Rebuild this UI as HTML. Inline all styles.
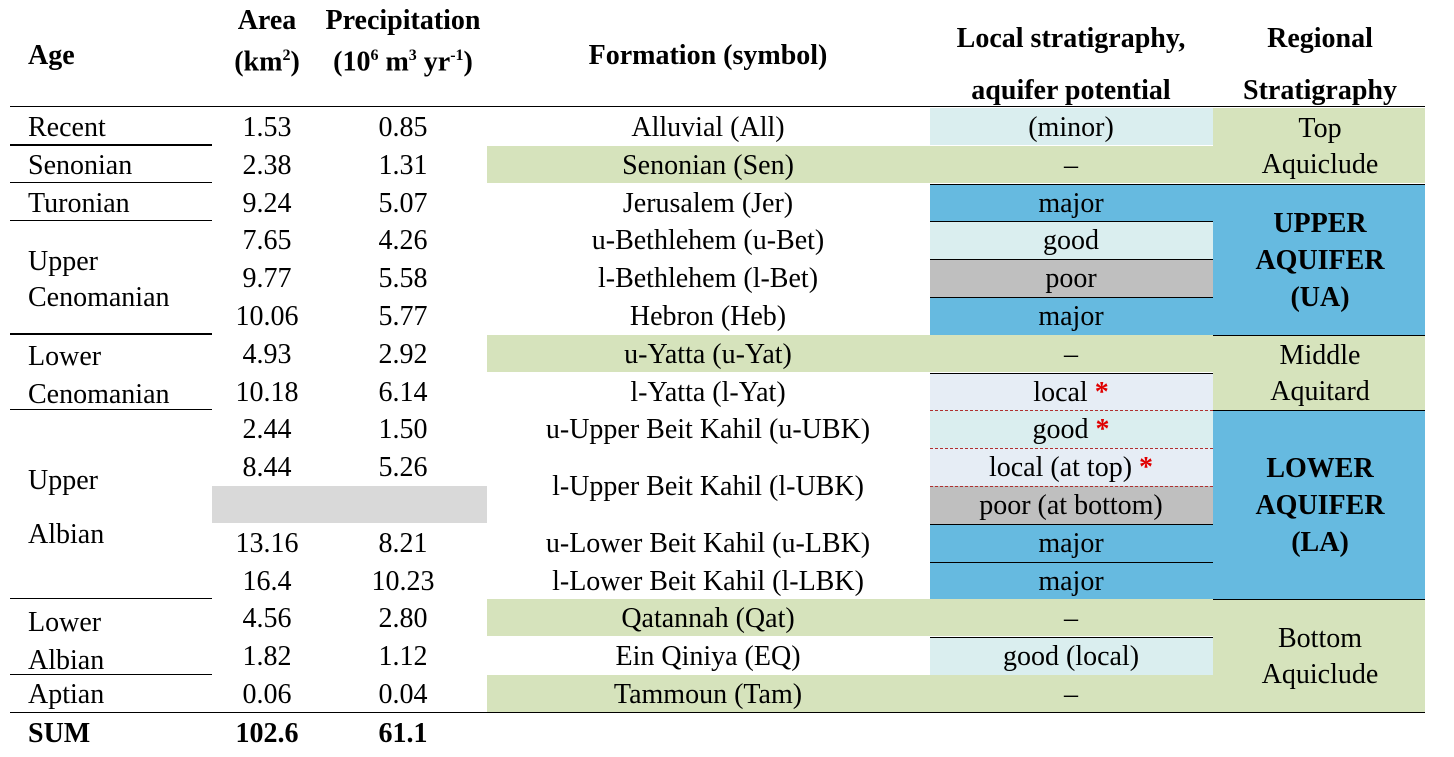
<!DOCTYPE html>
<html><head><meta charset="utf-8"><style>
body{margin:0;width:1454px;height:757px;background:#fff;position:relative;overflow:hidden;font-family:"Liberation Serif","Times New Roman",Times,serif;color:#000}
.a{position:absolute;font-family:"Liberation Serif","Times New Roman",Times,serif;font-size:28px;line-height:30px;white-space:nowrap}
.c{transform:translateX(-50%);text-align:center}
.b{font-weight:bold}
.bg{position:absolute}
.ln{position:absolute;height:1.3px;background:#000}
.st{color:#e00000;font-weight:bold}
</style></head><body>
<div id="root"></div>
<script>
const ages=["Recent","Senonian","Turonian","","","","","","","","","","","","",""];
const areas=["1.53","2.38","9.24","7.65","9.77","10.06","4.93","10.18","2.44","8.44","","13.16","16.4","4.56","1.82","0.06"];
const precips=["0.85","1.31","5.07","4.26","5.58","5.77","2.92","6.14","1.50","5.26","","8.21","10.23","2.80","1.12","0.04"];
const formations=["Alluvial (All)","Senonian (Sen)","Jerusalem (Jer)","u-Bethlehem (u-Bet)","l-Bethlehem (l-Bet)","Hebron (Heb)","u-Yatta (u-Yat)","l-Yatta (l-Yat)","u-Upper Beit Kahil (u-UBK)","","","u-Lower Beit Kahil (u-LBK)","l-Lower Beit Kahil (l-LBK)","Qatannah (Qat)","Ein Qiniya (EQ)","Tammoun (Tam)"];
const potentials=["(minor)","–","major","good","poor","major","–","local","good","local (at top)","poor (at bottom)","major","major","–","good (local)","–"];
const stars=[0,0,0,0,0,0,0,1,1,1,0,0,0,0,0,0];
const C={g:"#d6e3bc",c:"#daeeef",b:"#66bae0",p:"#bfbfbf",l:"#e6edf5",w:"#fff"};
const potColors=["c","g","b","c","p","b","g","l","c","l","p","b","b","g","c","g"];
const formGreen=[0,1,0,0,0,0,1,0,0,0,0,0,0,1,0,1];
const root=document.getElementById('root');
const T=107,H=37.8;
function el(cls,x,y,txt,name){const d=document.createElement('div');d.className=cls;d.style.left=x+'px';d.style.top=y+'px';if(txt!==undefined)d.innerHTML=txt;


root.appendChild(d);return d;}
function box(x,y,w,h,col,name){const d=el('bg',x,y,undefined,name);d.style.width=w+'px';d.style.height=h+'px';d.style.background=col;return d;}
el('a b',28,41,'Age','header-age');
el('a b c',267,6,'Area','header-area');
el('a b c',267,41,'(km<sup style="font-size:16px">2</sup>)','header-area-unit');
el('a b c',403,6,'Precipitation','header-precip');
el('a b c',403,41,'(10<sup style="font-size:16px">6</sup> m<sup style="font-size:16px">3</sup> yr<sup style="font-size:16px">-1</sup>)','header-precip-unit');
el('a b c',708,41,'Formation (symbol)','header-formation');
el('a b c',1071,24,'Local stratigraphy,','header-local');
el('a b c',1071,76,'aquifer potential','header-local-2');
el('a b c',1320,24,'Regional','header-regional');
el('a b c',1320,76,'Stratigraphy','header-regional-2');
for(let i=0;i<16;i++){const y=T+i*H;
 if(formGreen[i])box(487,y+1,443,H-1,C.g,'formation-bg');
 const lc=box(930,y+1,283,H-1,C[potColors[i]],'potential-cell');
 if(i==8||i==9||i==10)lc.style.borderTop='1.3px dashed #b03030';
 else if(i>0&&!formGreen[i])lc.style.borderTop='1.3px solid #000';
}
box(212,T+10*H+1,275,H-1,'#d9d9d9','gap-cell');
const reg=[[0,2,C.g,'Top<br>Aquiclude',0,'regional-top-aquiclude'],[2,6,C.b,'UPPER<br>AQUIFER<br>(UA)',1,'regional-upper-aquifer'],[6,8,C.g,'Middle<br>Aquitard',0,'regional-middle-aquitard'],[8,13,C.b,'LOWER<br>AQUIFER<br>(LA)',1,'regional-lower-aquifer'],[13,16,C.g,'Bottom<br>Aquiclude',0,'regional-bottom-aquiclude']];
reg.forEach(r=>{const y=T+r[0]*H,h=(r[1]-r[0])*H;const b=box(1213,y+1,212,h-1,r[2],r[5]+'-bg');if(r[0]>0)b.style.borderTop='1.3px solid #000';
 const n=r[3].split('<br>').length;const lh=r[4]?37:36;
 const t=el('a c'+(r[4]?' b':''),1320,y+h/2-n*lh/2+2,r[3],r[5]);t.style.lineHeight=lh+'px';});
for(let i=0;i<16;i++){const y=T+i*H+6;
 if(ages[i])el('a',28,y,ages[i],'age-label');
 if(areas[i])el('a c',267,y,areas[i],'area-value');
 if(precips[i])el('a c',403,y,precips[i],'precip-value');
 if(formations[i])el('a c',708,y,formations[i],'formation-label');
 el('a c',1071,y,potentials[i]+(stars[i]?' <span class="st">*</span>':''),'potential-label');
}
el('a',28,T+3*H+24,'Upper<br>Cenomanian','age-upper-cenomanian').style.lineHeight='36px';
el('a',28,T+6*H+4,'Lower<br>Cenomanian','age-lower-cenomanian').style.lineHeight='38px';
el('a',28,T+8*H+58,'Upper<br><br>Albian','age-upper-albian').style.lineHeight='27px';
el('a',28,T+13*H+6,'Lower<br>Albian','age-lower-albian').style.lineHeight='38px';
el('a',28,T+15*H+6,'Aptian','age-aptian');
el('a c',708,T+9*H+25,'l-Upper Beit Kahil (l-UBK)','formation-l-ubk');
el('a b',28,719,'SUM','sum-label');
el('a b c',267,719,'102.6','sum-area');
el('a b c',403,719,'61.1','sum-precip');
function line(x,y,w,name){const d=el('ln',x,y,undefined,name);d.style.width=w+'px';}
line(10,106,1415,'header-rule');
[1,2,3,6,8,13,15].forEach(k=>line(10,T+k*H-0.5,202,'age-rule'));
line(10,712,1415,'bottom-rule');
</script>
</body></html>
